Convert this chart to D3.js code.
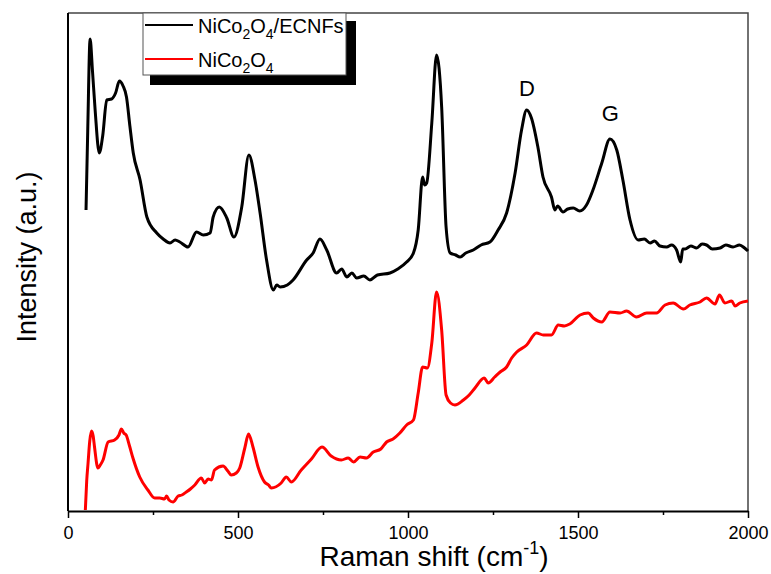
<!DOCTYPE html>
<html>
<head>
<meta charset="utf-8">
<script src="https://cdn.jsdelivr.net/npm/d3@7"></script>
<style>
  body { margin: 0; background: #fff; }
  text { font-family: "Liberation Sans", Arial, sans-serif; fill: #000; }
</style>
</head>
<body>
<script>
let w = 771;
let h = 574;

// plot area
let plotLeft = 68, plotRight = 748, plotTop = 13, plotBottom = 511;

// Raman spectra: [shift (cm-1), intensity (a.u.)]
var ecnfData = [
  [53, 301], [58, 380], [65, 472], [72, 440], [80, 400], [92, 358], [102, 375], [114, 411],
  [128, 412], [140, 418], [151, 430], [162, 425], [172, 414], [182, 385], [192, 358], [212, 331],
  [232, 294], [261, 278], [280, 272], [300, 268], [315, 271], [329, 269], [353, 264], [378, 279],
  [398, 276], [418, 278], [427, 294], [445, 304], [467, 293], [488, 274], [511, 304], [532, 356],
  [550, 331], [565, 298], [584, 251], [604, 221], [614, 226], [624, 224], [645, 226], [662, 231],
  [702, 251], [721, 258], [741, 272], [761, 261], [790, 238], [805, 242], [820, 234], [835, 238],
  [849, 233], [870, 235], [888, 231], [910, 236], [947, 238], [970, 242], [996, 249], [1016, 258],
  [1030, 281], [1043, 334], [1049, 326], [1055, 328], [1070, 388], [1084, 456], [1099, 404],
  [1112, 284], [1124, 258], [1140, 256], [1153, 254], [1170, 258], [1192, 261], [1215, 266],
  [1241, 269], [1265, 281], [1290, 298], [1315, 338], [1334, 381], [1349, 401], [1363, 393],
  [1382, 364], [1397, 334], [1422, 314], [1432, 301], [1440, 305], [1456, 299], [1470, 302],
  [1486, 303], [1505, 300], [1525, 306], [1544, 321], [1570, 348], [1594, 372], [1614, 361],
  [1632, 331], [1653, 291], [1677, 271], [1695, 272], [1712, 268], [1725, 270], [1741, 265],
  [1761, 264], [1775, 266], [1790, 261], [1802, 249], [1808, 262], [1815, 262], [1832, 265],
  [1849, 263], [1865, 267], [1878, 266], [1895, 262], [1918, 263], [1935, 266], [1956, 264],
  [1975, 266], [1990, 263], [2000, 260]
];

var nicoData = [
  [51, 1], [55, 30], [59, 48], [64, 70], [69, 80], [74, 75], [78, 64], [88, 43], [95, 46],
  [103, 51], [118, 69], [137, 71], [150, 76], [157, 82], [164, 78], [171, 76], [181, 65],
  [191, 53], [211, 34], [235, 21], [255, 13], [270, 13], [284, 12], [290, 15], [297, 11],
  [309, 9], [324, 15], [335, 16], [348, 19], [360, 22], [373, 26], [392, 33], [402, 28],
  [412, 32], [422, 31], [431, 41], [456, 45], [470, 40], [480, 36], [495, 38], [505, 43],
  [520, 63], [531, 77], [544, 64], [559, 44], [578, 29], [590, 26], [598, 23], [627, 28],
  [642, 34], [657, 29], [686, 41], [716, 52], [747, 64], [774, 55], [804, 51], [824, 53],
  [840, 49], [859, 54], [878, 53], [898, 59], [920, 62], [937, 69], [956, 72], [976, 78],
  [996, 86], [1016, 91], [1030, 118], [1043, 144], [1057, 143], [1070, 168], [1084, 219],
  [1099, 181], [1112, 116], [1125, 108], [1138, 106], [1163, 111], [1180, 116], [1197, 123],
  [1224, 133], [1236, 128], [1255, 134], [1271, 139], [1290, 144], [1305, 153], [1320, 159],
  [1349, 166], [1378, 178], [1398, 176], [1422, 176], [1442, 186], [1460, 185], [1476, 187],
  [1506, 196], [1530, 198], [1545, 193], [1570, 189], [1594, 199], [1624, 198], [1643, 200],
  [1672, 194], [1702, 198], [1731, 198], [1756, 206], [1780, 208], [1810, 202], [1829, 206],
  [1859, 209], [1878, 213], [1903, 207], [1916, 216], [1932, 208], [1952, 210], [1962, 205],
  [1976, 208], [2000, 210]
];

var majorTicks = [0, 500, 1000, 1500, 2000];
var minorTicks = [250, 750, 1250, 1750];

var series = [
  { name: ["NiCo", "2", "O", "4", "/ECNFs"], color: "#000000", data: ecnfData },
  { name: ["NiCo", "2", "O", "4", ""], color: "#ff0000", data: nicoData }
];

var peakLabels = [
  { text: "D", shift: 1350, value: 415 },
  { text: "G", shift: 1595, value: 390 }
];

let svg = d3.select("body").append("svg").attr("width", w).attr("height", h);

let xScale = d3.scaleLinear().domain([0, 2000]).range([plotLeft, plotRight]);
let yScale = d3.scaleLinear().domain([0, 498]).range([plotBottom, plotTop]);

// frame top and right
svg.append("path")
  .attr("d", `M${plotLeft} ${plotTop} H${plotRight} V${plotBottom}`)
  .attr("fill", "none")
  .attr("stroke", "#444")
  .attr("stroke-width", 1.5);

// curves
let line = d3.line()
  .curve(d3.curveMonotoneX)
  .x(function(d) { return xScale(d[0]); })
  .y(function(d) { return yScale(d[1]); });

series.forEach(function(s) {
  svg.append("path")
    .datum(s.data)
    .attr("d", line)
    .attr("fill", "none")
    .attr("stroke", s.color)
    .attr("stroke-width", 3)
    .attr("stroke-linejoin", "round");
});

// x axis: minor then major
let minorAxis = d3.axisBottom(xScale).tickValues(minorTicks).tickSize(4).tickFormat("").tickSizeOuter(0);
let gMinor = svg.append("g").attr("transform", `translate(0, ${plotBottom})`).call(minorAxis);
gMinor.select(".domain").remove();
gMinor.selectAll("line").attr("stroke", "#000").attr("stroke-width", 1.5);

let xAxis = d3.axisBottom(xScale)
  .tickValues(majorTicks)
  .tickFormat(d3.format("d"))
  .tickSize(7)
  .tickSizeOuter(0)
  .tickPadding(8);
let gx = svg.append("g").attr("transform", `translate(0, ${plotBottom})`).call(xAxis);
gx.select(".domain").attr("stroke", "#000").attr("stroke-width", 2);
gx.selectAll("line").attr("stroke", "#000").attr("stroke-width", 1.5);
gx.selectAll("text")
  .style("font-family", "'Liberation Sans', Arial, sans-serif")
  .style("font-size", "18px")
  .attr("fill", "#000");

// left axis line (no ticks)
svg.append("line")
  .attr("x1", plotLeft).attr("x2", plotLeft)
  .attr("y1", plotTop).attr("y2", plotBottom)
  .attr("stroke", "#000")
  .attr("stroke-width", 2);

// axis titles
let xt = svg.append("text")
  .attr("x", 434)
  .attr("y", 566)
  .style("text-anchor", "middle")
  .style("font-size", "28px");
xt.append("tspan").text("Raman shift (cm");
xt.append("tspan").attr("dy", -12).style("font-size", "18px").text("-1");
xt.append("tspan").attr("dy", 12).text(")");

svg.append("text")
  .attr("transform", "translate(36, 257) rotate(-90)")
  .style("text-anchor", "middle")
  .style("font-size", "27px")
  .text("Intensity (a.u.)");

// peak labels
svg.selectAll("text.peak")
  .data(peakLabels)
  .enter()
  .append("text")
  .attr("class", "peak")
  .attr("x", function(d) { return xScale(d.shift); })
  .attr("y", function(d) { return yScale(d.value); })
  .style("text-anchor", "middle")
  .style("font-size", "22px")
  .text(function(d) { return d.text; });

// legend with drop shadow
let lx = 143, ly = 13, lw = 203, lh = 62;
svg.append("rect")
  .attr("x", lx + 7).attr("y", ly + 8)
  .attr("width", lw + 3).attr("height", lh + 2)
  .attr("fill", "#000");
svg.append("rect")
  .attr("x", lx).attr("y", ly)
  .attr("width", lw).attr("height", lh)
  .attr("fill", "#fff")
  .attr("stroke", "#555")
  .attr("stroke-width", 1);

series.forEach(function(s, i) {
  let yy = 25 + i * 34;
  svg.append("line")
    .attr("x1", 145).attr("x2", 193)
    .attr("y1", yy).attr("y2", yy)
    .attr("stroke", s.color)
    .attr("stroke-width", 2);
  let t = svg.append("text")
    .attr("x", 198)
    .attr("y", yy + 8)
    .style("font-size", "20px");
  t.append("tspan").text(s.name[0]);
  t.append("tspan").attr("dy", 6).style("font-size", "14px").text(s.name[1]);
  t.append("tspan").attr("dy", -6).text(s.name[2]);
  t.append("tspan").attr("dy", 6).style("font-size", "14px").text(s.name[3]);
  if (s.name[4]) t.append("tspan").attr("dy", -6).text(s.name[4]);
});
</script>
</body>
</html>
